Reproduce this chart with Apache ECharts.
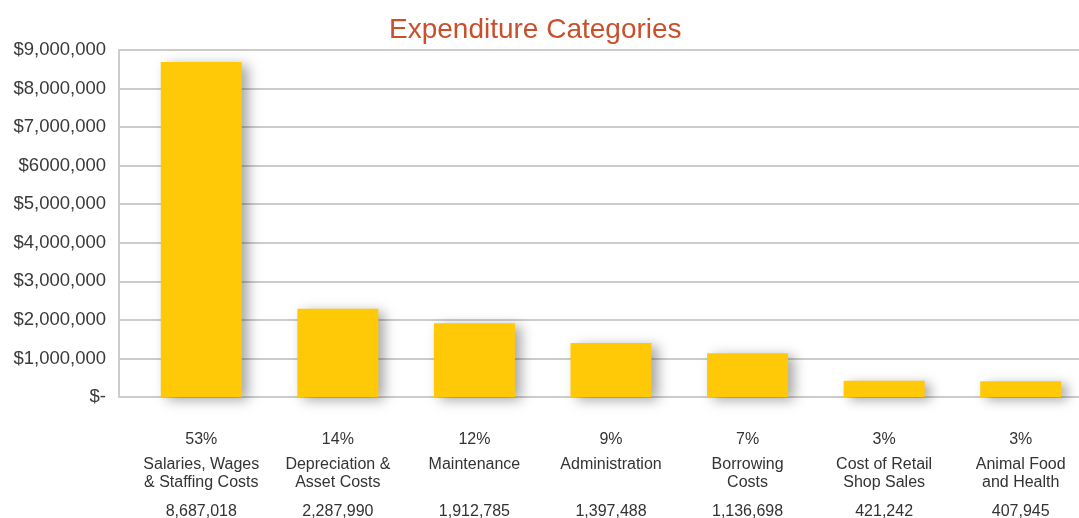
<!DOCTYPE html>
<html>
<head>
<meta charset="utf-8">
<script src="https://cdn.jsdelivr.net/npm/echarts@6/dist/echarts.min.js"></script>
<style>html,body{margin:0;padding:0;background:#fff;}#c{width:1079px;height:518px;}</style>
</head>
<body>
<div id="c"></div>
<script>
var categories = ['Salaries, Wages\n& Staffing Costs', 'Depreciation &\nAsset Costs', 'Maintenance', 'Administration', 'Borrowing\nCosts', 'Cost of Retail\nShop Sales', 'Animal Food\nand Health'];
var values = [8687018, 2287990, 1912785, 1397488, 1136698, 421242, 407945];
var percents = ['53%', '14%', '12%', '9%', '7%', '3%', '3%'];
var yTickLabels = ['$-', '$1,000,000', '$2,000,000', '$3,000,000', '$4,000,000', '$5,000,000', '$6000,000', '$7,000,000', '$8,000,000', '$9,000,000'];

function fmt(n) { return String(n).replace(/\B(?=(\d{3})+(?!\d))/g, ','); }

var chart = echarts.init(document.getElementById('c'));
var font = 'Liberation Sans, Arial, sans-serif';
chart.setOption({
  animation: false,
  title: {
    text: 'Expenditure Categories', left: 384, top: 11,
    textStyle: { color: '#c9502b', fontSize: 28, fontWeight: 'normal', fontFamily: font }
  },
  grid: [
    { left: 119, right: 0, top: 50, bottom: 121, outerBoundsMode: 'none', containLabel: false },
    { left: 133, width: 956, top: 50, bottom: 121, outerBoundsMode: 'none', containLabel: false }
  ],
  xAxis: [
    { gridIndex: 0, type: 'category', data: categories, show: false },
    {
      gridIndex: 1, type: 'category', data: categories,
      axisLine: { show: false }, axisTick: { show: false },
      axisLabel: {
        margin: 27, interval: 0, fontFamily: font, color: '#333',
        formatter: function (v, i) {
          var lines = v.split('\n');
          if (lines.length < 2) lines.push(' ');
          return '{p|' + percents[i] + '}\n{n|' + lines[0] + '}\n{n|' + lines[1] + '}\n{v|' + fmt(values[i]) + '}';
        },
        rich: {
          p: { fontSize: 16, lineHeight: 32, fontFamily: font, color: '#333' },
          n: { fontSize: 16, lineHeight: 18, fontFamily: font, color: '#333' },
          v: { fontSize: 16, lineHeight: 40, fontFamily: font, color: '#333' }
        }
      }
    }
  ],
  yAxis: [
    {
      gridIndex: 0, type: 'value', min: 0, max: 9000000, interval: 1000000,
      axisLine: { show: true, lineStyle: { color: '#cccccc', width: 2 } },
      axisTick: { show: false },
      splitLine: { lineStyle: { color: '#cccccc', width: 2 } },
      axisLabel: {
        margin: 13, fontSize: 18.5, fontFamily: font, color: '#3a3a3a',
        formatter: function (v) { return yTickLabels[Math.round(v / 1000000)]; }
      }
    },
    { gridIndex: 1, type: 'value', min: 0, max: 9000000, interval: 1000000, show: false, splitLine: { show: false } }
  ],
  series: [{
    type: 'bar', xAxisIndex: 1, yAxisIndex: 1, data: values, barWidth: 81,
    itemStyle: {
      color: '#ffc907',
      shadowColor: 'rgba(0,0,0,0.35)', shadowBlur: 12, shadowOffsetX: 6, shadowOffsetY: 3
    }
  }]
});
</script>
</body>
</html>
